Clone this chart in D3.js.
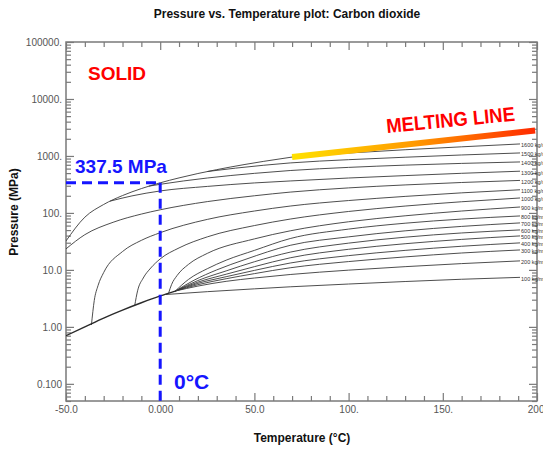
<!DOCTYPE html>
<html lang="en">
<head>
<meta charset="utf-8">
<title>CO2 pressure vs temperature</title>
<script src="https://d3js.org/d3.v7.min.js"></script>
<style>
  body { margin: 0; background: #fff; }
  text { font-family: "Liberation Sans", Arial, sans-serif; }
</style>
</head>
<body>
<svg width="543" height="449" id="mainsvg"></svg>
<script>
// ---- data: [temperature °C, pressure MPa] ----
const densities = [100, 200, 300, 400, 500, 600, 700, 800, 900, 1000, 1100, 1200, 1300, 1400, 1500, 1600];

const iso100  = [[3, 3.7], [25, 4.15], [50, 4.65], [69, 5.05], [100, 5.65], [130, 6.25], [160, 6.85], [191, 7.4]];
const iso200  = [[8, 4.25], [20, 5.2], [35, 6.3], [50, 7.2], [69, 8.3], [100, 9.9], [130, 11.4], [160, 12.9], [191, 14.4]];
const iso300  = [[8, 4.25], [20, 5.5], [35, 7.0], [50, 8.6], [69, 10.9], [100, 14.0], [130, 16.9], [160, 19.8], [191, 22.4]];
const iso400  = [[8, 4.25], [20, 5.8], [35, 7.6], [50, 9.8], [69, 13.2], [100, 17.8], [130, 22.0], [160, 26.0], [191, 29.8]];
const iso500  = [[8, 4.25], [20, 6.1], [35, 8.4], [50, 11.4], [69, 16.3], [100, 23.0], [130, 28.8], [160, 34.3], [191, 39.5]];
const iso600  = [[8, 4.25], [20, 6.5], [35, 9.6], [50, 13.9], [69, 20.5], [100, 29.5], [130, 37.5], [160, 44.5], [191, 50.3]];
const iso700  = [[8, 4.25], [18, 6.6], [30, 10.0], [45, 15.2], [69, 27.0], [100, 38.0], [130, 48.5], [160, 58.0], [191, 66.8]];
const iso800  = [[8, 4.25], [15, 6.8], [25, 10.5], [35, 14.8], [50, 22.0], [69, 35.5], [100, 52.0], [130, 66.0], [160, 78.0], [191, 88.5]];
const iso900  = [[4.5, 3.95], [6, 5.5], [9, 8.0], [15, 12.5], [25, 19.5], [50, 35.0], [69, 48.5], [100, 70.0], [130, 89.0], [160, 108], [191, 127]];
const iso1000 = [[-13.5, 2.4], [-12, 4.3], [-9, 7.2], [-5, 10.8], [0, 15.6], [10, 24.3], [25, 38], [50, 60], [69, 78], [100, 106], [130, 132], [160, 157], [191, 183]];
const iso1100 = [[-36.5, 1.08], [-35, 2.9], [-33, 5.3], [-30, 9], [-20, 21], [-10, 33], [0, 45], [25, 77], [50, 108], [69, 132], [100, 165], [130, 195], [160, 225], [191, 255]];
const iso1200 = [[-50, 23.4], [-40, 41.5], [-25, 68.5], [-10, 95.5], [0, 113.5], [25, 158], [50, 200], [69, 232], [100, 275], [130, 310], [160, 342], [191, 372]];
const iso1300 = [[-26.6, 161], [-15, 199], [0, 243], [25, 292], [50, 336], [69, 364], [100, 410], [130, 452], [160, 496], [191, 540]];
const iso1400 = [[-6, 295], [0, 318], [25, 410], [50, 495], [69, 555], [100, 630], [130, 690], [160, 740], [191, 785]];
const iso1500 = [[25, 533], [40, 611], [55, 687], [69, 754], [100, 860], [130, 950], [160, 1040], [191, 1129]];
const iso1600 = [[70, 956], [100, 1125], [130, 1285], [160, 1446], [191, 1624]];

const saturation = [[-50, 0.70], [-40, 1.0], [-30, 1.43], [-20, 1.97], [-10, 2.65], [0, 3.49], [8, 4.25]];
const melting = [[-50, 32.2], [-40, 84.2], [-30, 140.7], [-20, 201.8], [-10, 267.4], [0, 337.5], [10, 412], [20, 491.5], [30, 575], [45, 709.5], [55, 804.6], [70, 956]];
const meltingExtension = [[70, 956], [199, 2800]];

const xMajor = [-50, 0, 50, 100, 150, 200];
const xMajorLabels = ['-50.0', '0.000', '50.0', '100.', '150.', '200.'];
const yMajor = [0.1, 1, 10, 100, 1000, 10000, 100000];
const yMajorLabels = ['0.100', '1.00', '10.0', '100.', '1000.', '10000.', '100000.'];

const zeroC = 0;
const meltAtZero = 337.5;

const isochores = [iso100, iso200, iso300, iso400, iso500, iso600, iso700, iso800,
                   iso900, iso1000, iso1100, iso1200, iso1300, iso1400, iso1500, iso1600];

// ---- layout ----
const svg = d3.select('#mainsvg');
const plotLeft = 66, plotRight = 537, plotTop = 42, plotBottom = 401;

const xScale = d3.scaleLinear().domain([-50, 200]).range([plotLeft, plotRight]);
const yScale = d3.scaleLog().domain([0.05, 100000]).range([plotBottom, plotTop]);

// minor ticks
const xMinor = d3.range(-50, 201, 10).filter(v => !xMajor.includes(v));
const yMinor = [];
[0.01, 0.1, 1, 10, 100, 1000, 10000].forEach(dec => {
    for (let k = 2; k <= 9; k++) {
        const v = dec * k;
        if (v >= 0.05 && v <= 100000) yMinor.push(v);
    }
});

const defs = svg.append('defs');
defs.append('clipPath').attr('id', 'plotclip')
    .append('rect').attr('x', plotLeft).attr('y', plotTop)
    .attr('width', plotRight - plotLeft).attr('height', plotBottom - plotTop);

const axisColor = '#7a7a7a';
const styleAxis = g => {
    g.select('.domain').remove();
    g.selectAll('.tick line').attr('stroke', axisColor).attr('stroke-width', 1.2);
    g.selectAll('.tick text').attr('fill', '#555').attr('font-size', '10px')
        .attr('font-family', '"Liberation Sans", Arial, sans-serif');
};

// left
svg.append('g').attr('transform', `translate(${plotLeft},0)`)
    .call(d3.axisLeft(yScale).tickValues(yMajor).tickSize(-8).tickPadding(4)
        .tickFormat((d, i) => yMajorLabels[i]))
    .call(styleAxis);
svg.append('g').attr('transform', `translate(${plotLeft},0)`)
    .call(d3.axisLeft(yScale).tickValues(yMinor).tickSize(-5).tickFormat(''))
    .call(styleAxis);
// right
svg.append('g').attr('transform', `translate(${plotRight},0)`)
    .call(d3.axisRight(yScale).tickValues(yMajor).tickSize(-8).tickFormat(''))
    .call(styleAxis);
svg.append('g').attr('transform', `translate(${plotRight},0)`)
    .call(d3.axisRight(yScale).tickValues(yMinor).tickSize(-5).tickFormat(''))
    .call(styleAxis);
// bottom
svg.append('g').attr('transform', `translate(0,${plotBottom})`)
    .call(d3.axisBottom(xScale).tickValues(xMajor).tickSize(-8).tickPadding(5)
        .tickFormat((d, i) => xMajorLabels[i]))
    .call(styleAxis);
svg.append('g').attr('transform', `translate(0,${plotBottom})`)
    .call(d3.axisBottom(xScale).tickValues(xMinor).tickSize(-5).tickFormat(''))
    .call(styleAxis);
// top
svg.append('g').attr('transform', `translate(0,${plotTop})`)
    .call(d3.axisTop(xScale).tickValues(xMajor).tickSize(-8).tickFormat(''))
    .call(styleAxis);
svg.append('g').attr('transform', `translate(0,${plotTop})`)
    .call(d3.axisTop(xScale).tickValues(xMinor).tickSize(-5).tickFormat(''))
    .call(styleAxis);

// frame
svg.append('rect').attr('x', plotLeft).attr('y', plotTop)
    .attr('width', plotRight - plotLeft).attr('height', plotBottom - plotTop)
    .attr('fill', 'none').attr('stroke', axisColor).attr('stroke-width', 1.5);

// ---- curves ----
const line = d3.line()
    .x(d => xScale(d[0]))
    .y(d => yScale(d[1]))
    .curve(d3.curveMonotoneX);

const plot = svg.append('g').attr('clip-path', 'url(#plotclip)');

plot.selectAll('.iso').data(isochores).enter().append('path')
    .attr('class', 'iso')
    .attr('d', line)
    .attr('fill', 'none')
    .attr('stroke', '#3a3a3a')
    .attr('stroke-width', 0.9);

plot.append('path').datum(saturation).attr('d', line)
    .attr('fill', 'none').attr('stroke', '#2a2a2a').attr('stroke-width', 1.4);

plot.append('path').datum(melting).attr('d', line)
    .attr('fill', 'none').attr('stroke', '#3a3a3a').attr('stroke-width', 0.9);

// isochore labels at right
svg.selectAll('.isolabel').data(isochores).enter().append('text')
    .attr('class', 'isolabel')
    .attr('x', d => xScale(d[d.length - 1][0]) + 1)
    .attr('y', d => yScale(d[d.length - 1][1]) + 2)
    .attr('dominant-baseline', 'middle')
    .attr('font-size', '5.5px')
    .attr('fill', '#333')
    .text((d, i) => densities[i] + ' kg/m³');

// melting line annotation (gradient bar)
const grad = defs.append('linearGradient').attr('id', 'meltgrad')
    .attr('gradientUnits', 'userSpaceOnUse')
    .attr('x1', xScale(meltingExtension[0][0])).attr('y1', 0)
    .attr('x2', xScale(meltingExtension[1][0])).attr('y2', 0);
grad.append('stop').attr('offset', '0%').attr('stop-color', '#ffe100');
grad.append('stop').attr('offset', '50%').attr('stop-color', '#ff9a00');
grad.append('stop').attr('offset', '100%').attr('stop-color', '#ff2a00');

svg.append('line')
    .attr('x1', xScale(meltingExtension[0][0])).attr('y1', yScale(meltingExtension[0][1]))
    .attr('x2', xScale(meltingExtension[1][0])).attr('y2', yScale(meltingExtension[1][1]))
    .attr('stroke', 'url(#meltgrad)').attr('stroke-width', 6);

svg.append('text')
    .attr('transform', 'translate(387,133) rotate(-5.5)')
    .attr('font-family', '"Open Sans", sans-serif')
    .attr('font-weight', 'bold').attr('font-size', '20px')
    .attr('textLength', 129).attr('lengthAdjust', 'spacingAndGlyphs')
    .attr('fill', '#ff0000')
    .text('MELTING LINE');

svg.append('text')
    .attr('x', 88).attr('y', 80)
    .attr('font-family', '"Open Sans", sans-serif')
    .attr('font-weight', 'bold').attr('font-size', '19px')
    .attr('fill', '#ff0000')
    .text('SOLID');

// 0 °C marker
const blue = '#1515ff';
svg.append('line')
    .attr('x1', plotLeft).attr('y1', yScale(meltAtZero))
    .attr('x2', xScale(zeroC)).attr('y2', yScale(meltAtZero))
    .attr('stroke', blue).attr('stroke-width', 3).attr('stroke-dasharray', '10,6');
svg.append('line')
    .attr('x1', xScale(zeroC)).attr('y1', yScale(meltAtZero))
    .attr('x2', xScale(zeroC)).attr('y2', plotBottom + 1)
    .attr('stroke', blue).attr('stroke-width', 3).attr('stroke-dasharray', '10,6');

svg.append('text')
    .attr('x', 75).attr('y', 173)
    .attr('font-family', '"Open Sans", sans-serif')
    .attr('font-weight', 'bold').attr('font-size', '19px')
    .attr('fill', blue)
    .text('337.5 MPa');

svg.append('text')
    .attr('x', 174).attr('y', 389)
    .attr('font-family', '"Open Sans", sans-serif')
    .attr('font-weight', 'bold').attr('font-size', '21px')
    .attr('fill', blue)
    .text('0°C');

// ---- titles ----
svg.append('text')
    .attr('x', 287).attr('y', 18)
    .attr('text-anchor', 'middle')
    .attr('font-weight', 'bold').attr('font-size', '12px')
    .attr('fill', '#111')
    .text('Pressure vs. Temperature plot: Carbon dioxide');

svg.append('text')
    .attr('x', 302).attr('y', 442)
    .attr('text-anchor', 'middle')
    .attr('font-weight', 'bold').attr('font-size', '12px')
    .attr('fill', '#111')
    .text('Temperature (°C)');

svg.append('text')
    .attr('transform', 'translate(18,212) rotate(-90)')
    .attr('text-anchor', 'middle')
    .attr('font-weight', 'bold').attr('font-size', '12px')
    .attr('fill', '#111')
    .text('Pressure (MPa)');
</script>
</body>
</html>
